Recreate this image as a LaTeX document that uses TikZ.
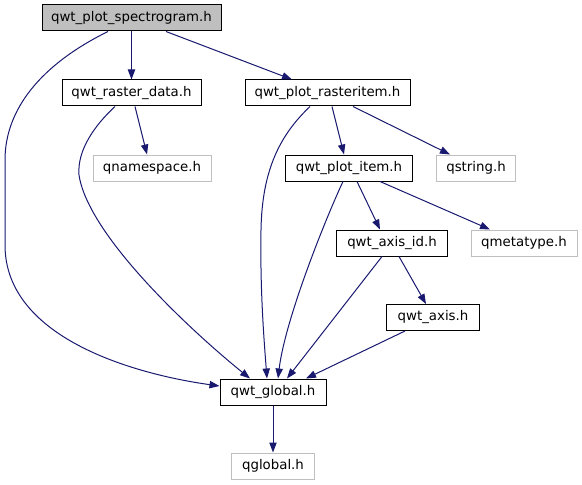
\documentclass[tikz,border=0pt]{standalone}
\usepackage{fontspec}
\setmainfont{DejaVu Sans}
\usetikzlibrary{calc,arrows.meta}
\definecolor{edgeblue}{HTML}{191970}
\definecolor{boxgray}{HTML}{BFBFBF}
\tikzset{
  hdr/.style={draw=black, line width=0.75pt, fill=white, minimum height=19.5pt, inner sep=0pt, font=\fontsize{10}{12}\selectfont},
  curhdr/.style={hdr, fill=boxgray},
  exthdr/.style={hdr, draw=boxgray},
  dep/.style={draw=edgeblue, line width=0.75pt, -{Triangle[length=7.5pt,width=5.5pt]}}
}
\begin{document}
\begin{tikzpicture}[x=0.75pt,y=-0.75pt]
\useasboundingbox (0,0) rectangle (582,485);
\node[curhdr, minimum width=134.25pt] (spec) at (131.5,18) {qwt\_plot\_spectrogram.h};
\node[hdr, minimum width=104.25pt] (rd) at (131.5,93) {qwt\_raster\_data.h};
\node[hdr, minimum width=123.75pt] (ri) at (327.5,93) {qwt\_plot\_rasteritem.h};
\node[exthdr, minimum width=88.5pt] (qns) at (152,168) {qnamespace.h};
\node[hdr, minimum width=95.25pt] (pi) at (349,168) {qwt\_plot\_item.h};
\node[exthdr, minimum width=59.25pt] (qstr) at (476,168) {qstring.h};
\node[hdr, minimum width=83.25pt] (aid) at (392,243) {qwt\_axis\_id.h};
\node[exthdr, minimum width=79.5pt] (qmt) at (524,243) {qmetatype.h};
\node[hdr, minimum width=69.75pt] (axis) at (433,317.5) {qwt\_axis.h};
\node[hdr, minimum width=79.5pt] (glob) at (273,392) {qwt\_global.h};
\node[exthdr, minimum width=62.25pt] (qglob) at (273,466) {qglobal.h};

\draw[dep] (spec) -- (rd);
\draw[dep] ($(spec.south)+(34.5,0)$) -- ($(ri.north)+(-35.5,0)$);
\draw[dep] ($(spec.south)+(-23.5,0)$) .. controls (40,65) and (5,110) .. (5,160) -- (5,245) .. controls (5,340) and (140,375) .. ($(glob.west)+(0,-6)$);
\draw[dep] ($(rd.south)+(3.5,0)$) -- ($(qns.north)+(-5,0)$);
\draw[dep] ($(rd.south)+(-16.5,0)$) .. controls (95,125) and (77,150) .. (79,175) .. controls (88,235) and (190,330) .. ($(glob.north)+(-23,0)$);
\draw[dep] ($(ri.south)+(-17.5,0)$) .. controls (280,135) and (262,170) .. (261,230) .. controls (260,290) and (264,340) .. ($(glob.north)+(-6,0)$);
\draw[dep] ($(ri.south)+(4.5,0)$) -- ($(pi.north)+(-5,0)$);
\draw[dep] ($(ri.south)+(25.5,0)$) -- ($(qstr.north)+(-26,0)$);
\draw[dep] ($(pi.south)+(-6,0)$) .. controls (325,220) and (285,320) .. ($(glob.north)+(5,0)$);
\draw[dep] ($(pi.south)+(8,0)$) -- ($(aid.north)+(-12,0)$);
\draw[dep] ($(pi.south)+(31,0)$) -- ($(qmt.north)+(-34,0)$);
\draw[dep] ($(aid.south)+(-10,0)$) -- ($(glob.north)+(14,0)$);
\draw[dep] ($(aid.south)+(7,0)$) -- ($(axis.north)+(-7,0)$);
\draw[dep] ($(axis.south)+(-28,0)$) -- ($(glob.north)+(33,0)$);
\draw[dep] (glob) -- (qglob);
\end{tikzpicture}
\end{document}
